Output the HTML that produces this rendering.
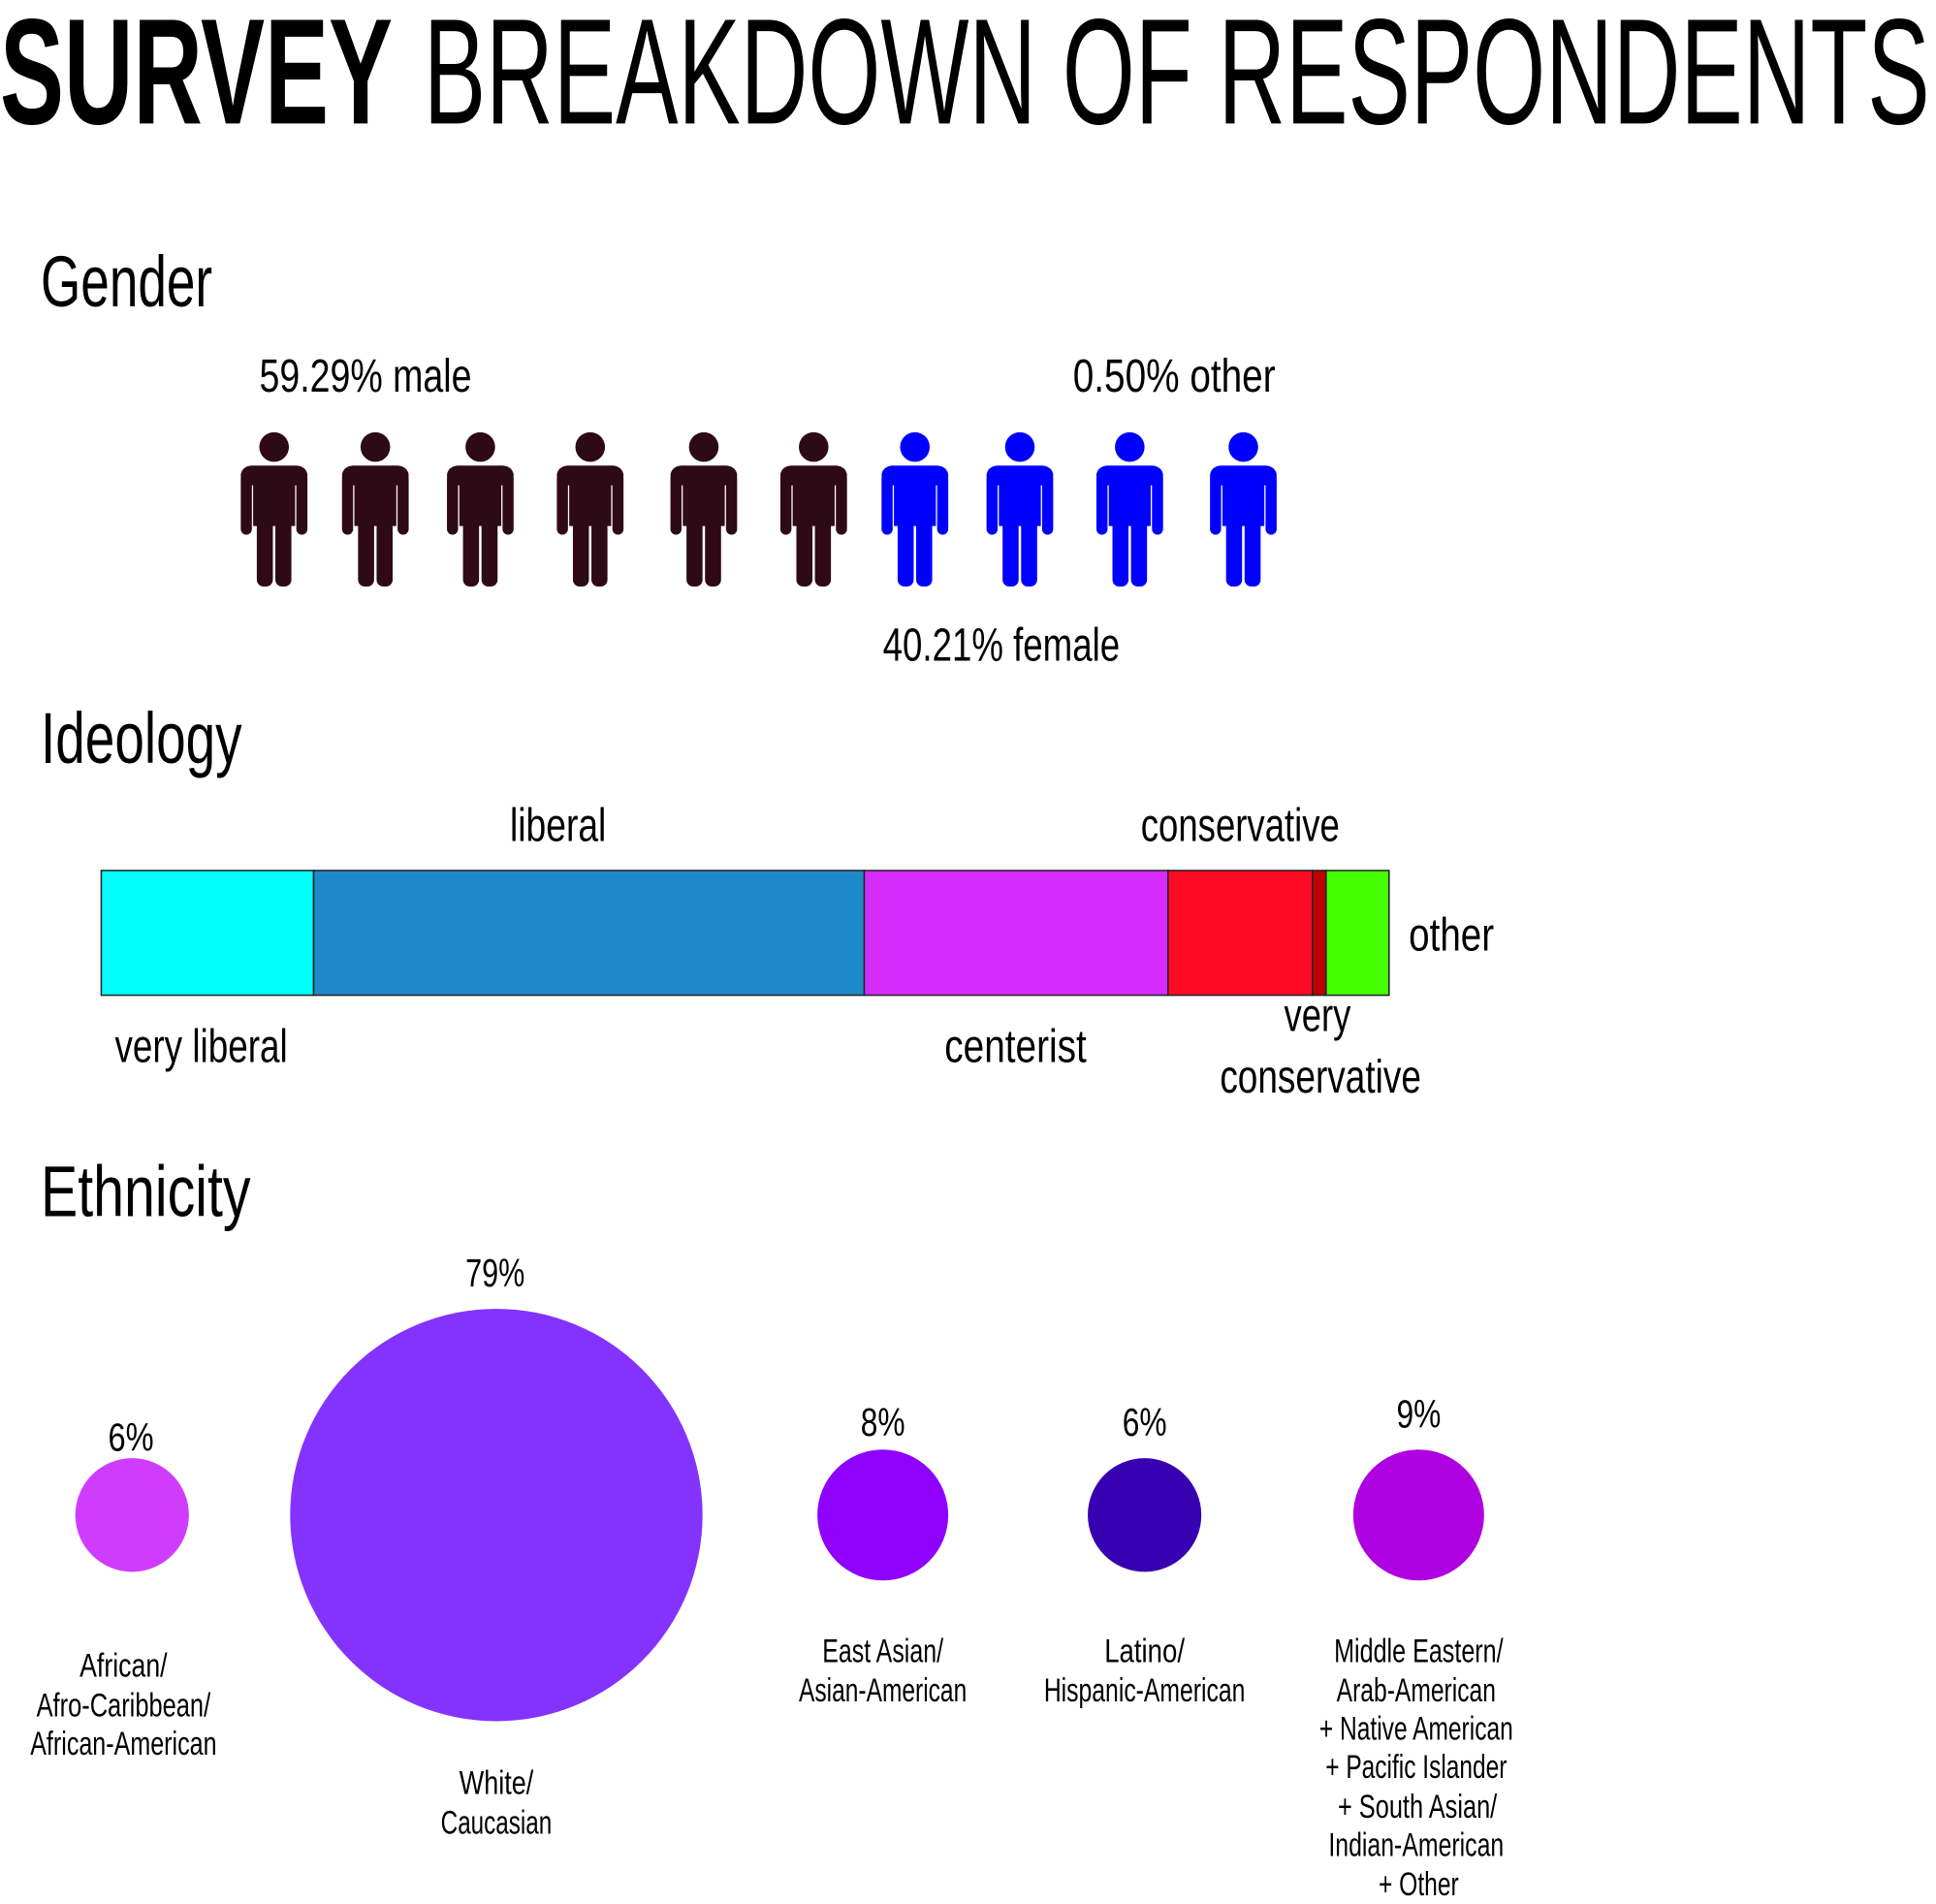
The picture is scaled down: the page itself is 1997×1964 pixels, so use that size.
<!DOCTYPE html>
<html><head><meta charset="utf-8"><style>
html,body{margin:0;padding:0;background:#fff;}
svg{display:block;}
text{font-family:"Liberation Sans Narrow","Liberation Sans",sans-serif;fill:#000;}
</style></head><body>
<svg width="1997" height="1964" viewBox="0 0 1568 1542" xmlns="http://www.w3.org/2000/svg">
<defs>
<g id="fig">
<circle cx="0" cy="362" r="12"/>
<rect x="-27" y="377" width="54" height="16" rx="9"/>
<rect x="-17" y="380" width="34" height="46"/>
<rect x="-27" y="383" width="9" height="50" rx="4.5"/>
<rect x="18" y="383" width="9" height="50" rx="4.5"/>
<rect x="-14" y="410" width="13" height="65" rx="5.5"/>
<rect x="1" y="410" width="13" height="65" rx="5.5"/>
</g>
</defs>
<text x="0" y="100" font-size="122" font-weight="bold" textLength="318" lengthAdjust="spacingAndGlyphs">SURVEY</text>
<text x="343" y="100" font-size="122" textLength="1220" lengthAdjust="spacingAndGlyphs">BREAKDOWN OF RESPONDENTS</text>

<text x="33" y="248" font-size="58" textLength="139" lengthAdjust="spacingAndGlyphs">Gender</text>
<text x="210" y="317" font-size="38" textLength="172" lengthAdjust="spacingAndGlyphs">59.29% male</text>
<text x="869" y="317" font-size="38" textLength="164" lengthAdjust="spacingAndGlyphs">0.50% other</text>
<g fill="#2d0a16">
<use href="#fig" x="222"/><use href="#fig" x="304"/><use href="#fig" x="389"/>
<use href="#fig" x="478"/><use href="#fig" x="570"/><use href="#fig" x="659"/>
</g>
<g fill="#0000ff">
<use href="#fig" x="741"/><use href="#fig" x="826"/><use href="#fig" x="915"/><use href="#fig" x="1007"/>
</g>
<text x="715" y="535" font-size="38" textLength="192" lengthAdjust="spacingAndGlyphs">40.21% female</text>

<text x="33" y="618" font-size="58" textLength="163" lengthAdjust="spacingAndGlyphs">Ideology</text>
<text x="413" y="681" font-size="38" textLength="78" lengthAdjust="spacingAndGlyphs">liberal</text>
<text x="924" y="681" font-size="38" textLength="161" lengthAdjust="spacingAndGlyphs">conservative</text>
<g stroke="#222" stroke-width="1.2">
<rect x="82" y="705" width="172" height="101" fill="#00ffff"/>
<rect x="254" y="705" width="446" height="101" fill="#1e88c9"/>
<rect x="700" y="705" width="246" height="101" fill="#d62bff"/>
<rect x="946" y="705" width="117" height="101" fill="#ff0a25"/>
<rect x="1063" y="705" width="11" height="101" fill="#c00000"/>
<rect x="1074" y="705" width="51" height="101" fill="#44ff00"/>
</g>
<text x="1141" y="770" font-size="38" textLength="69" lengthAdjust="spacingAndGlyphs">other</text>
<text x="93" y="860" font-size="38" textLength="140" lengthAdjust="spacingAndGlyphs">very liberal</text>
<text x="765" y="860" font-size="38" textLength="115" lengthAdjust="spacingAndGlyphs">centerist</text>
<text x="1040" y="835" font-size="38" textLength="54" lengthAdjust="spacingAndGlyphs">very</text>
<text x="988" y="885" font-size="38" textLength="163" lengthAdjust="spacingAndGlyphs">conservative</text>

<text x="33" y="985" font-size="58" textLength="170" lengthAdjust="spacingAndGlyphs">Ethnicity</text>
<circle cx="107" cy="1227" r="46" fill="#d03cff"/>
<circle cx="402" cy="1227" r="167" fill="#8433ff"/>
<circle cx="715" cy="1227" r="53" fill="#8f00ff"/>
<circle cx="927" cy="1227" r="46" fill="#3700b0"/>
<circle cx="1149" cy="1227" r="53" fill="#ae00e0"/>

<g font-size="32" text-anchor="middle">
<text x="106" y="1175" textLength="37" lengthAdjust="spacingAndGlyphs">6%</text>
<text x="401" y="1042" textLength="48" lengthAdjust="spacingAndGlyphs">79%</text>
<text x="715" y="1163" textLength="36" lengthAdjust="spacingAndGlyphs">8%</text>
<text x="927" y="1163" textLength="36" lengthAdjust="spacingAndGlyphs">6%</text>
<text x="1149" y="1156" textLength="36" lengthAdjust="spacingAndGlyphs">9%</text>
</g>
<g font-size="27" text-anchor="middle">
<text x="100" y="1358" textLength="71" lengthAdjust="spacingAndGlyphs">African/</text>
<text x="100" y="1390" textLength="141" lengthAdjust="spacingAndGlyphs">Afro-Caribbean/</text>
<text x="100" y="1421" textLength="151" lengthAdjust="spacingAndGlyphs">African-American</text>
<text x="402" y="1453" textLength="60" lengthAdjust="spacingAndGlyphs">White/</text>
<text x="402" y="1485" textLength="90" lengthAdjust="spacingAndGlyphs">Caucasian</text>
<text x="715" y="1346" textLength="98" lengthAdjust="spacingAndGlyphs">East Asian/</text>
<text x="715" y="1378" textLength="136" lengthAdjust="spacingAndGlyphs">Asian-American</text>
<text x="927" y="1346" textLength="65" lengthAdjust="spacingAndGlyphs">Latino/</text>
<text x="927" y="1378" textLength="163" lengthAdjust="spacingAndGlyphs">Hispanic-American</text>
<text x="1149" y="1346" textLength="137" lengthAdjust="spacingAndGlyphs">Middle Eastern/</text>
<text x="1147" y="1378" textLength="129" lengthAdjust="spacingAndGlyphs">Arab-American</text>
<text x="1147" y="1409" textLength="157" lengthAdjust="spacingAndGlyphs">+ Native American</text>
<text x="1147" y="1440" textLength="147" lengthAdjust="spacingAndGlyphs">+ Pacific Islander</text>
<text x="1148" y="1472" textLength="129" lengthAdjust="spacingAndGlyphs">+ South Asian/</text>
<text x="1147" y="1503" textLength="142" lengthAdjust="spacingAndGlyphs">Indian-American</text>
<text x="1149" y="1535" textLength="65" lengthAdjust="spacingAndGlyphs">+ Other</text>
</g>
</svg>
</body></html>
